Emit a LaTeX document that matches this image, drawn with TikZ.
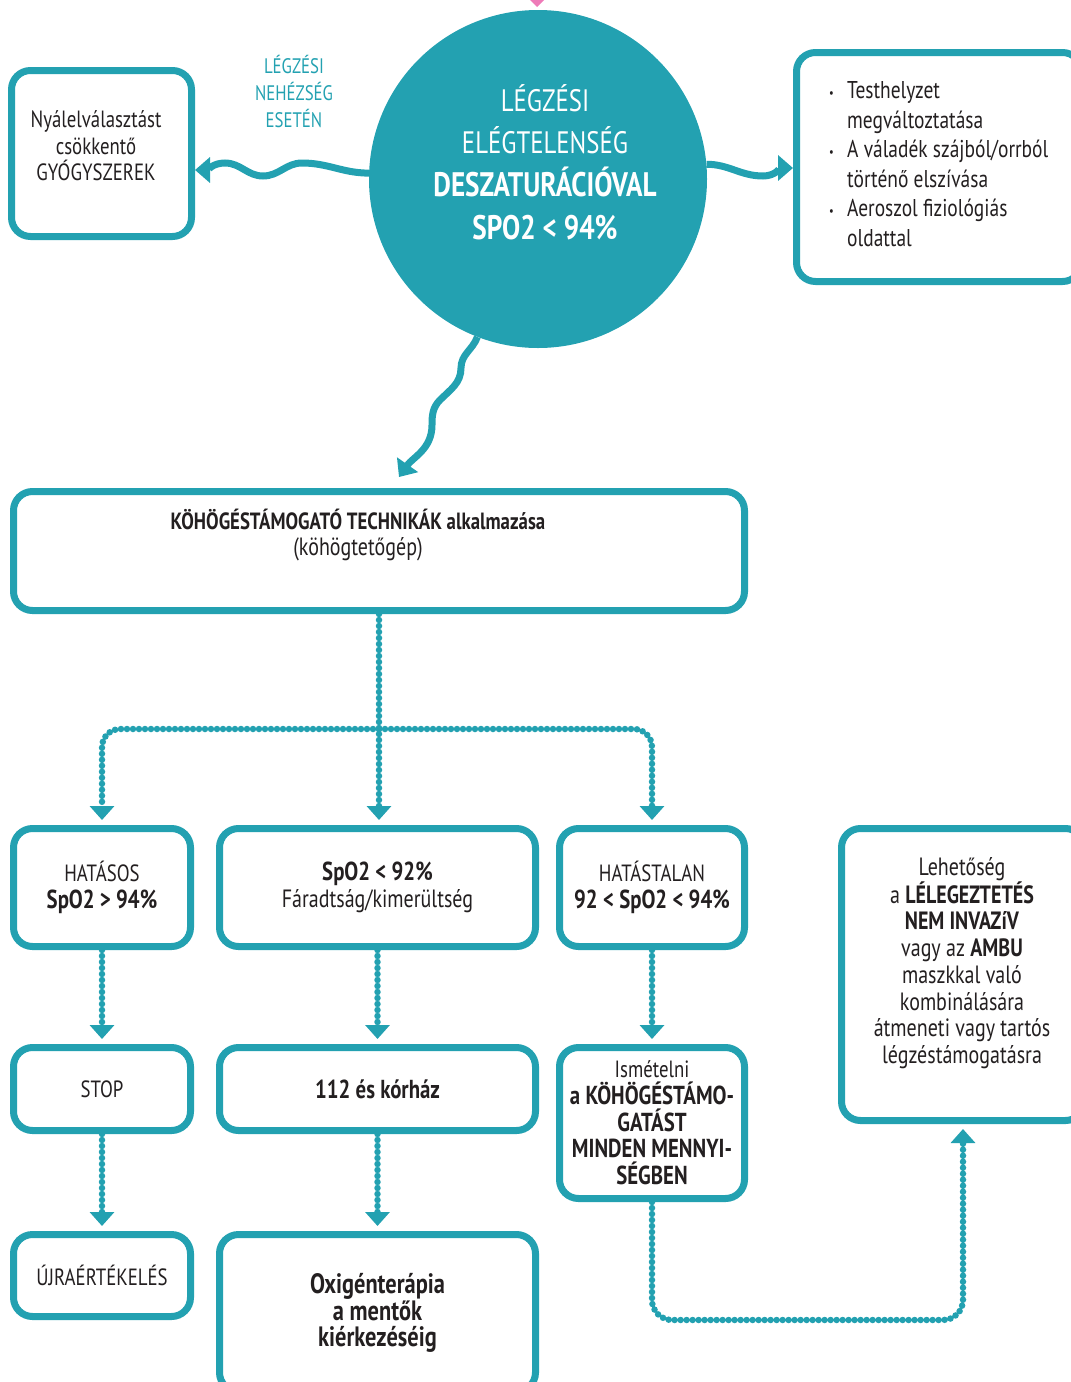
\documentclass[tikz,border=0pt]{standalone}
\usepackage{fontspec}
\setmainfont{PT Sans}[FakeStretch=0.8]
\usetikzlibrary{arrows.meta,calc}
\definecolor{turk}{HTML}{23A1B1}
\definecolor{ink}{HTML}{231F20}
\definecolor{rozsa}{HTML}{EE7BB8}
\newcommand{\nagy}[1]{{\fontsize{26}{28}\selectfont\bfseries #1}}
\newcommand{\pontjel}{\makebox[18pt][l]{\raisebox{1pt}{\fontsize{13}{13}\selectfont •}}}
\tikzset{
	doboz/.style={draw=turk, line width=7pt, rounded corners=19pt, fill=white, align=center, text=ink, inner sep=0pt, font=\fontsize{23.5}{26.5}\selectfont},
	szoveg/.style={align=center, text=ink, inner sep=0pt, font=\fontsize{23.5}{26.5}\selectfont},
	pont/.style={draw=turk, line width=6.5pt, line cap=round, dash pattern=on 0pt off 6pt, -{Triangle[width=24pt,length=14pt]}, shorten >=5pt},
	hullam/.style={draw=turk, line width=7pt, -{Triangle[width=25pt,length=15pt]}},
}
\begin{document}
\begin{tikzpicture}[x=1pt,y=-1pt]
\path[use as bounding box, clip] (0,0) rectangle (1071,1382);

\fill[rozsa] (527,-3) -- (547,-3) -- (537,7) -- cycle;

% kozepso kor
\node[circle, fill=turk, minimum size=338pt, inner sep=0pt] (kor) at (538,179) {};
\node[szoveg, text=white, font=\fontsize{31}{42.7}\selectfont] (kortxt) at (545,162) {LÉGZÉSI\\ELÉGTELENSÉG\\{\fontsize{34}{42.7}\selectfont\bfseries DESZATURÁCIÓVAL}\\{\fontsize{34}{42.7}\selectfont\bfseries SPO2 < 94\%}};
\node[szoveg, text=turk, font=\fontsize{21}{27}\selectfont] (legzesi) at (294,91) {LÉGZÉSI\\NEHÉZSÉG\\ESETÉN};

% felso dobozok
\node[doboz, minimum width=180pt, minimum height=166pt] (nyal) at (101.5,153.5) {};
\node[szoveg] (nyaltxt) at (96,146) {Nyálelválasztást\\csökkentő\\GYÓGYSZEREK};
\node[doboz, minimum width=285pt, minimum height=229pt] (teendo) at (939,167) {};
\node[szoveg, anchor=west, align=left, font=\fontsize{24.3}{29.5}\selectfont] (teendotxt) at (829,164) {\pontjel Testhelyzet\\\hspace*{18pt}megváltoztatása\\\pontjel A váladék szájból/orrból\\\hspace*{18pt}történő elszívása\\\pontjel Aeroszol fiziológiás\\\hspace*{18pt}oldattal};

\draw[hullam] (kor.178) to[out=180,in=0] (302,163) to[out=180,in=0] (263,176) to[out=180,in=0] (225,163) to[out=180,in=0] (nyal.east |- 0,170);
\draw[hullam] (kor.5) to[out=0,in=180] (763,176) to[out=0,in=180] (teendo.west |- 0,168);
\draw[hullam] (kor.249) to[out=-110,in=90] (461,368) to[out=-90,in=45] (440,400) to[out=-135,in=90] (432,425) to[out=-90,in=55] (399,477);

% kohogtetes
\node[doboz, minimum width=731pt, minimum height=119pt] (cough) at (379,551) {};
\node[szoveg, font=\fontsize{25}{26.5}\selectfont] (coughtxt) at (358,535) {{\fontsize{23.5}{26.5}\selectfont\bfseries KÖHÖGÉSTÁMOGATÓ TECHNIKÁK alkalmazása}\\(köhögtetőgép)};

% masodik sor
\node[doboz, minimum width=177pt, minimum height=118pt] (hatasos) at (102,887.5) {HATÁSOS\\\nagy{SpO2 > 94\%}};
\node[doboz, minimum width=316pt, minimum height=118pt] (kozep) at (377.5,887.5) {\nagy{SpO2 < 92\%}\\{\fontsize{25}{26.5}\selectfont Fáradtság/kimerültség}};
\node[doboz, minimum width=185pt, minimum height=118pt] (hatastalan) at (652,887.5) {HATÁSTALAN\\\nagy{92 < SpO2 < 94\%}};
\node[doboz, minimum width=243pt, minimum height=292pt, font=\fontsize{25}{26.7}\selectfont] (leh) at (963,974.5) {};
\node[szoveg, font=\fontsize{25}{26.7}\selectfont] (lehtxt) at (962,963) {Lehetőség\\a \textbf{LÉLEGEZTETÉS}\\\textbf{NEM INVAZíV}\\vagy az \textbf{AMBU}\\maszkkal való\\kombinálására\\átmeneti vagy tartós\\légzéstámogatásra};

% harmadik sor
\node[doboz, minimum width=177pt, minimum height=83pt] (stop) at (102,1089) {STOP};
\node[doboz, minimum width=316pt, minimum height=83pt] (korhaz) at (377.5,1089) {\nagy{112 és kórház}};
\node[doboz, minimum width=185pt, minimum height=151pt, font=\fontsize{23.5}{26.7}\selectfont] (ism) at (652,1123) {Ismételni\\{\fontsize{26}{26.7}\selectfont\bfseries a KÖHÖGÉSTÁMO-}\\{\fontsize{26}{26.7}\selectfont\bfseries GATÁST}\\{\fontsize{26}{26.7}\selectfont\bfseries MINDEN MENNYI-}\\{\fontsize{26}{26.7}\selectfont\bfseries SÉGBEN}};

% negyedik sor
\node[doboz, minimum width=177pt, minimum height=82pt] (ujra) at (102,1275.5) {ÚJRAÉRTÉKELÉS};
\node[doboz, minimum width=316pt, minimum height=157pt, font=\fontsize{28}{26.5}\selectfont\bfseries] (oxi) at (377.5,1313) {Oxigénterápia\\a mentők\\kiérkezéséig};

% pontozott nyilak
\coordinate (elagazas) at ($(cough.south)+(0,115)$);
\draw[pont] (cough.south) -- (cough.south |- kozep.north);
\draw[pont, rounded corners=18pt] (elagazas) -| (hatasos.north);
\draw[pont, rounded corners=18pt] (elagazas) -| (hatastalan.north);
\draw[pont] (hatasos.south) -- (stop.north);
\draw[pont] (kozep.south) -- (korhaz.north);
\draw[pont] (hatastalan.south) -- (ism.north);
\draw[pont] (stop.south) -- (ujra.north);
\draw[pont] (korhaz.south) -- (oxi.north);
\draw[pont, rounded corners=20pt] (ism.south) |- (leh.south |- 0,1320) -- (leh.south);
\end{tikzpicture}
\end{document}
